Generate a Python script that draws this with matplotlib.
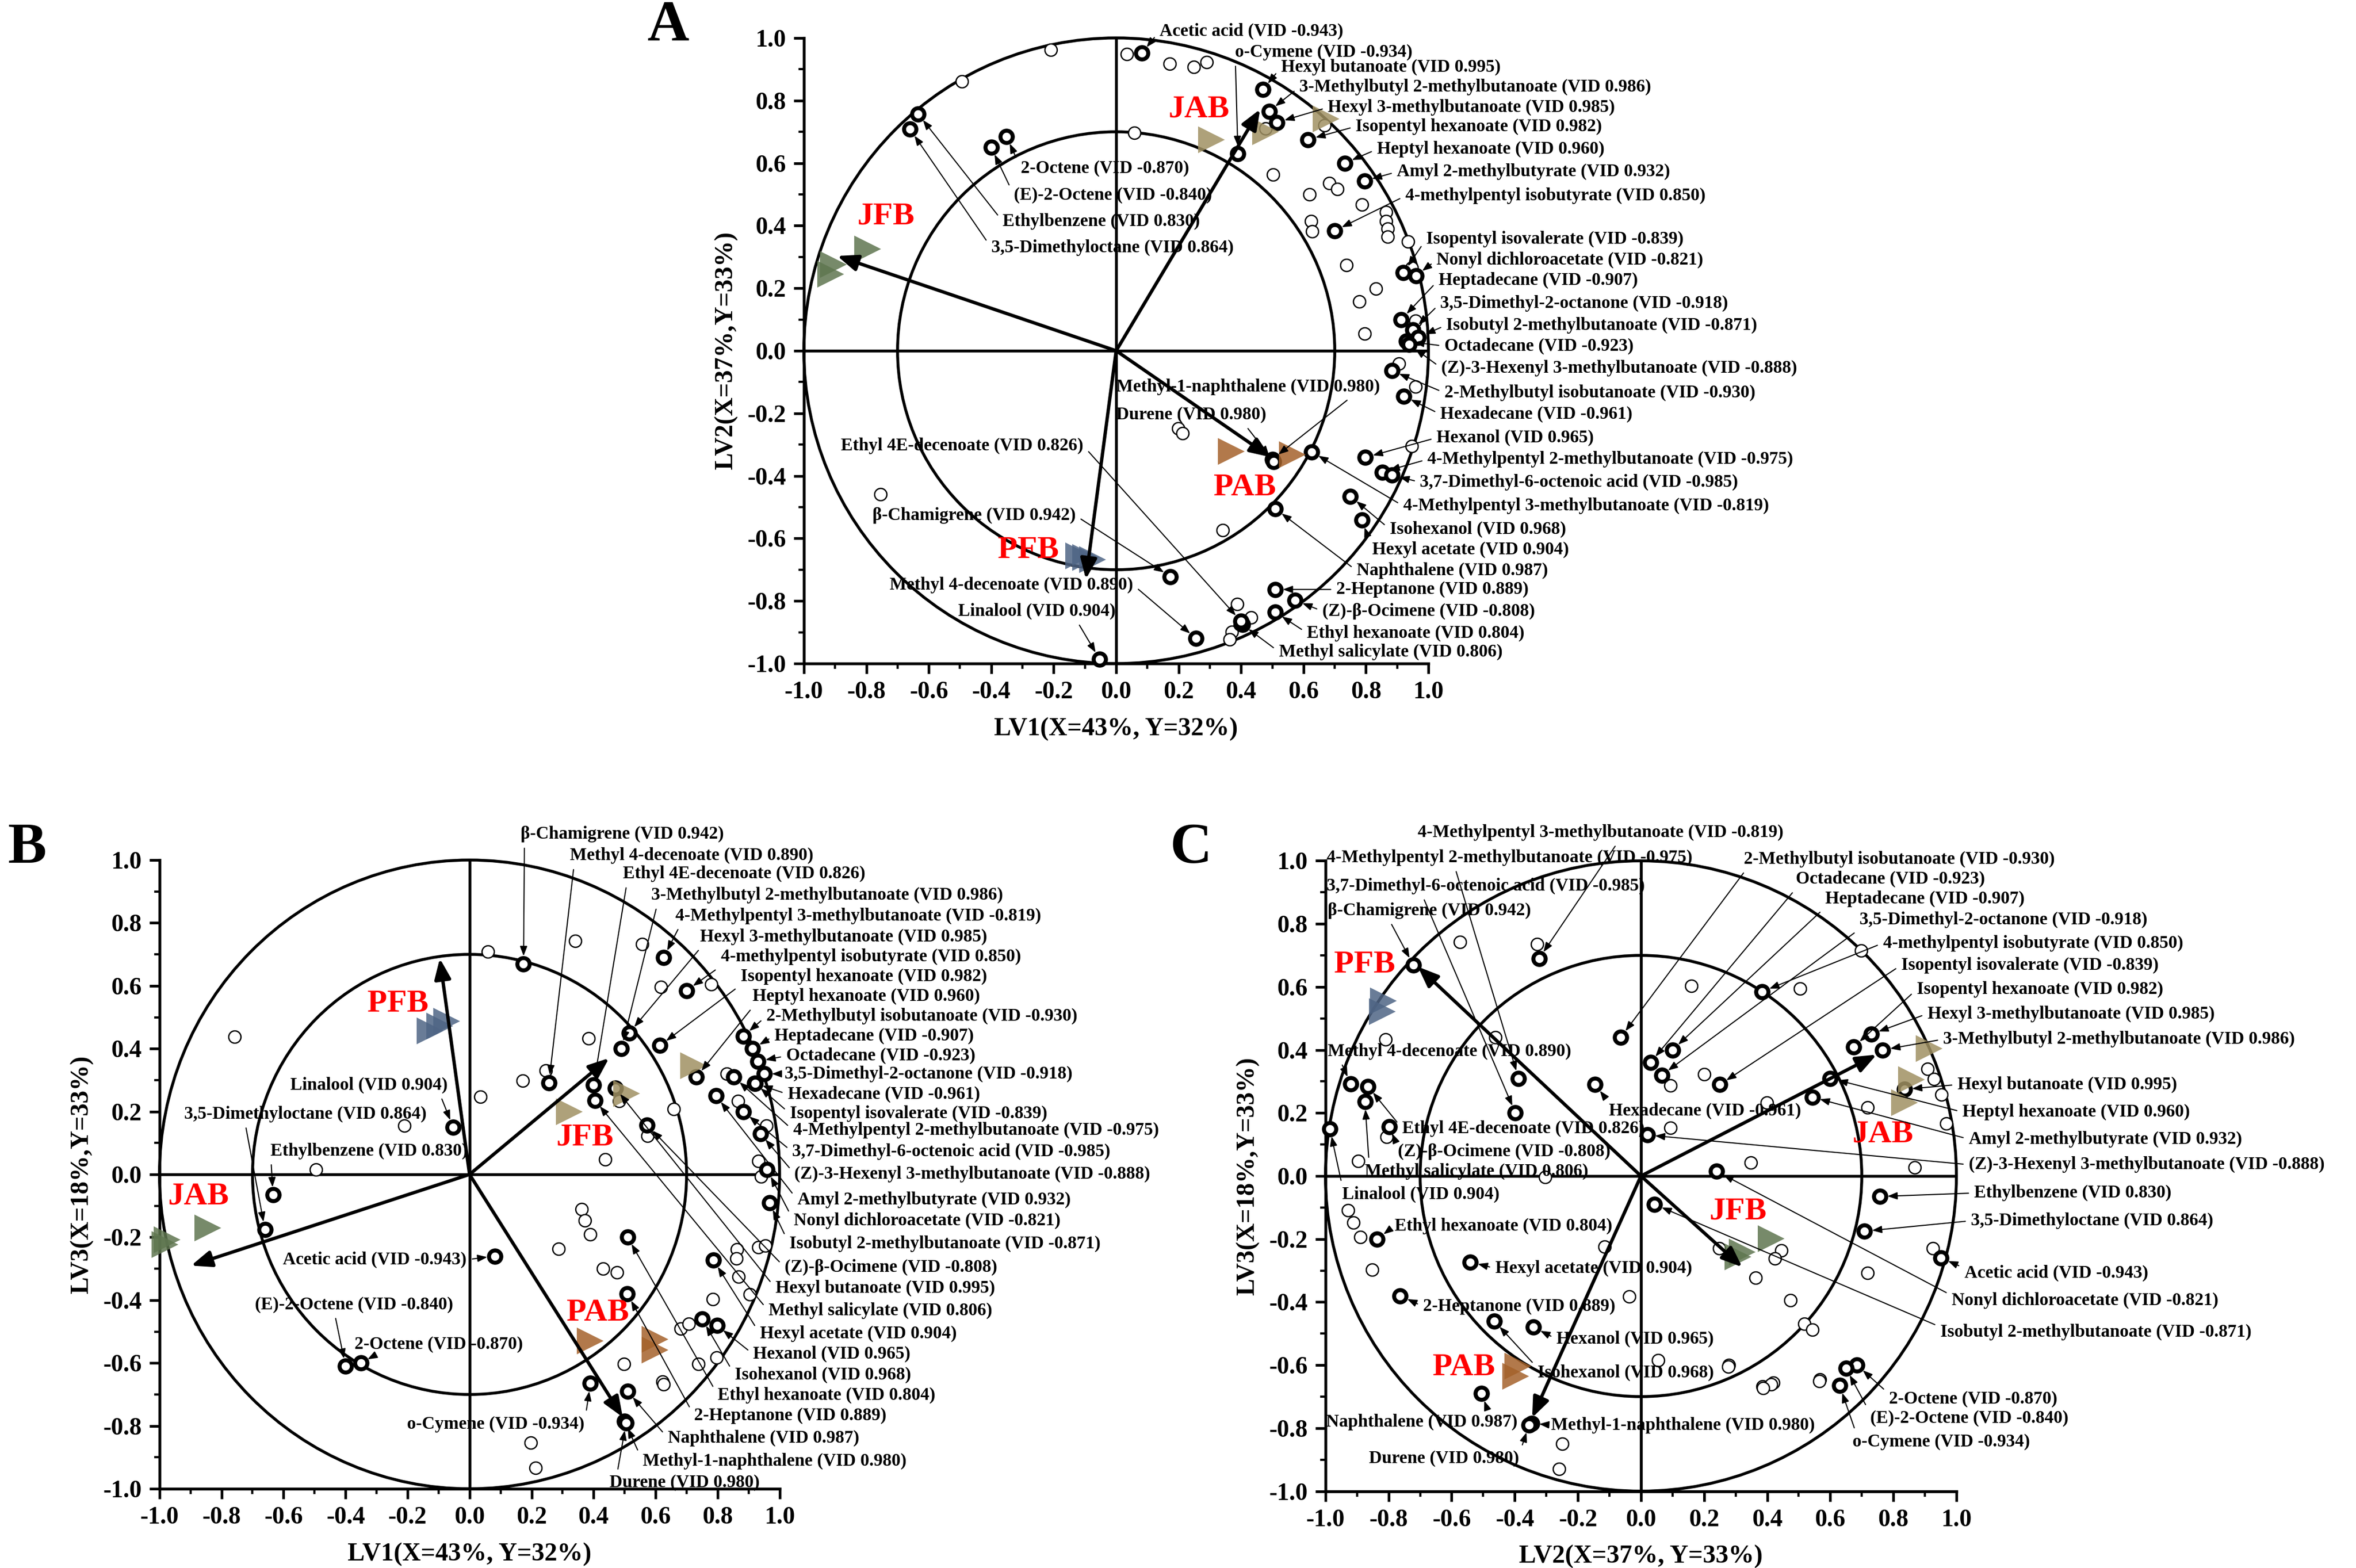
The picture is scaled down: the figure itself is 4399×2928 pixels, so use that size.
import numpy as np
import matplotlib.pyplot as plt
from matplotlib.patches import Circle
from matplotlib.ticker import MultipleLocator, FormatStrFormatter

plt.rcParams['font.family'] = ['Liberation Serif', 'DejaVu Serif']
plt.rcParams['font.weight'] = 'bold'

# compounds with VID values and loadings on LV1, LV2, LV3
names = ["Acetic acid", "o-Cymene", "Hexyl butanoate", "3-Methylbutyl 2-methylbutanoate",
         "Hexyl 3-methylbutanoate", "Isopentyl hexanoate", "Heptyl hexanoate",
         "Amyl 2-methylbutyrate", "4-methylpentyl isobutyrate", "Isopentyl isovalerate",
         "Nonyl dichloroacetate", "Heptadecane", "3,5-Dimethyl-2-octanone",
         "Isobutyl 2-methylbutanoate", "Octadecane", "(Z)-3-Hexenyl 3-methylbutanoate",
         "2-Methylbutyl isobutanoate", "Hexadecane", "Hexanol",
         "4-Methylpentyl 2-methylbutanoate", "3,7-Dimethyl-6-octenoic acid",
         "4-Methylpentyl 3-methylbutanoate", "Isohexanol", "Hexyl acetate", "Naphthalene",
         "2-Heptanone", "(Z)-β-Ocimene", "Ethyl hexanoate", "Methyl salicylate",
         "Methyl-1-naphthalene", "Durene", "Ethyl 4E-decenoate", "β-Chamigrene",
         "Methyl 4-decenoate", "Linalool", "2-Octene", "(E)-2-Octene", "Ethylbenzene",
         "3,5-Dimethyloctane"]
vid = [-0.943, -0.934, 0.995, 0.986, 0.985, 0.982, 0.960, 0.932, 0.850, -0.839, -0.821,
       -0.907, -0.918, -0.871, -0.923, -0.888, -0.930, -0.961, 0.965, -0.975, -0.985,
       -0.819, 0.968, 0.904, 0.987, 0.889, -0.808, 0.804, 0.806, 0.980, 0.980, 0.826,
       0.942, 0.890, 0.904, -0.870, -0.840, 0.830, 0.864]
lv1 = [0.082, 0.39, 0.47, 0.49, 0.515, 0.614, 0.732, 0.795, 0.70, 0.92, 0.96, 0.913, 0.95,
       0.967, 0.93, 0.938, 0.883, 0.921, 0.798, 0.852, 0.883, 0.626, 0.75, 0.787, 0.51,
       0.509, 0.573, 0.51, 0.404, 0.50, 0.505, 0.40, 0.174, 0.256, -0.053, -0.351, -0.40,
       -0.634, -0.66]
lv2 = [0.951, 0.63, 0.835, 0.766, 0.73, 0.675, 0.60, 0.543, 0.384, 0.25, 0.24, 0.10, 0.066,
       0.043, 0.03, 0.02, -0.064, -0.145, -0.341, -0.388, -0.398, -0.323, -0.465, -0.541,
       -0.505, -0.763, -0.798, -0.836, -0.875, -0.347, -0.355, -0.865, -0.722, -0.92,
       -0.986, 0.685, 0.65, 0.757, 0.708]
lv3 = [-0.26, -0.665, 0.275, 0.40, 0.45, 0.41, 0.31, 0.25, 0.585, 0.29, 0.015, 0.40, 0.32,
       -0.09, 0.36, 0.13, 0.44, 0.29, -0.48, 0.31, 0.20, 0.69, -0.46, -0.273, -0.69, -0.38,
       0.157, -0.20, 0.236, -0.785, -0.79, 0.284, 0.67, 0.292, 0.15, -0.60, -0.61, -0.065,
       -0.175]

# other (unlabelled) variables, read per panel
openA_x = [-0.209, -0.494, 0.034, 0.172, 0.248, 0.289, 0.059, 0.478, 0.667, 0.502, 0.683,
           0.708, 0.619, 0.787, 0.864, 0.864, 0.869, 0.869, 0.624, 0.627, 0.934, 0.737,
           0.832, 0.778, 0.796, 0.946, 0.959, 0.905, 0.959, 0.946, 0.199, 0.212, -0.754,
           0.342, 0.388, 0.432, 0.371, 0.363, 0.396]
openA_y = [0.962, 0.861, 0.948, 0.917, 0.907, 0.922, 0.696, 0.711, 0.72, 0.563, 0.535,
           0.517, 0.50, 0.468, 0.443, 0.414, 0.39, 0.364, 0.414, 0.382, 0.349, 0.274, 0.199,
           0.157, 0.054, 0.265, 0.096, -0.041, -0.115, -0.304, -0.248, -0.263, -0.459,
           -0.573, -0.809, -0.852, -0.898, -0.923, -0.875]
openB_x = [0.059, 0.34, 0.556, 0.617, 0.779, 0.384, 0.245, 0.171, 0.035, -0.758, -0.21,
           -0.495, 0.483, 0.574, 0.659, 0.437, 0.83, 0.866, 0.958, 0.931, 0.941, 0.361,
           0.372, 0.389, 0.287, 0.431, 0.475, 0.863, 0.861, 0.867, 0.904, 0.931, 0.954,
           0.784, 0.681, 0.707, 0.738, 0.796, 0.498, 0.622, 0.625, 0.198, 0.213]
openB_y = [0.709, 0.742, 0.733, 0.596, 0.604, 0.433, 0.33, 0.299, 0.247, 0.438, 0.155,
           0.015, 0.234, 0.123, 0.208, 0.047, 0.321, 0.234, 0.155, 0.042, -0.006, -0.111,
           -0.147, -0.191, -0.236, -0.30, -0.312, -0.239, -0.268, -0.325, -0.381, -0.231,
           -0.226, -0.396, -0.49, -0.475, -0.603, -0.583, -0.603, -0.659, -0.667, -0.853,
           -0.934]
openC_x = [-0.573, -0.33, -0.81, -0.461, -0.897, -0.806, -0.303, -0.928, -0.911, -0.89,
           -0.852, -0.115, -0.038, 0.054, 0.279, -0.249, -0.259, 0.093, 0.093, 0.159, 0.201,
           0.399, 0.504, 0.349, 0.248, 0.445, 0.424, 0.363, 0.473, 0.518, 0.544, 0.385,
           0.42, 0.568, 0.698, 0.908, 0.929, 0.952, 0.968, 0.718, 0.868, 0.925, 0.718,
           0.413, 0.387, 0.565, 0.277]
openC_y = [0.743, 0.735, 0.434, 0.44, 0.048, 0.124, -0.003, -0.109, -0.148, -0.193, -0.297,
           -0.225, -0.383, -0.584, -0.60, -0.849, -0.929, 0.288, 0.153, 0.603, 0.322, 0.233,
           0.595, 0.043, -0.23, -0.236, -0.262, -0.322, -0.394, -0.469, -0.487, -0.667,
           -0.656, -0.646, 0.715, 0.339, 0.307, 0.259, 0.166, 0.217, 0.027, -0.229, -0.308,
           -0.661, -0.673, -0.651, -0.605]

# sample groups: score triangles, group vectors
groups = ["JAB", "JFB", "PAB", "PFB"]
tan, green, brown, slate = "#A09163", "#5F7650", "#A5622B", "#4F6585"
colA = {"JAB": tan, "JFB": green, "PAB": brown, "PFB": slate}
colB = {"JAB": green, "JFB": tan, "PAB": brown, "PFB": slate}
colC = {"JAB": tan, "JFB": green, "PAB": brown, "PFB": slate}

triA = {"JAB": ([0.305, 0.478, 0.672], [0.674, 0.70, 0.742]),
        "JFB": ([-0.795, -0.905, -0.915], [0.326, 0.275, 0.245]),
        "PAB": ([0.368, 0.565], [-0.321, -0.332]),
        "PFB": ([-0.12, -0.097, -0.075], [-0.655, -0.66, -0.668])}
vecA = {"JAB": (0.461, 0.772), "JFB": (-0.893, 0.303), "PAB": (0.494, -0.34), "PFB": (-0.097, -0.73)}
triB = {"JAB": ([-0.844, -0.975, -0.983], [-0.171, -0.207, -0.223]),
        "JFB": ([0.321, 0.506, 0.722], [0.20, 0.258, 0.346]),
        "PAB": ([0.39, 0.599, 0.599], [-0.53, -0.525, -0.559]),
        "PFB": ([-0.127, -0.096, -0.073], [0.456, 0.472, 0.488])}
vecB = {"JAB": (-0.898, -0.29), "JFB": (0.45, 0.37), "PAB": (0.494, -0.772), "PFB": (-0.096, 0.687)}
triC = {"JAB": ([0.913, 0.857, 0.835], [0.405, 0.305, 0.232]),
        "JFB": ([0.413, 0.321, 0.307], [-0.198, -0.241, -0.257]),
        "PAB": ([-0.39, -0.397], [-0.603, -0.635]),
        "PFB": ([-0.817, -0.82], [0.555, 0.522])}
vecC = {"JAB": (0.747, 0.385), "JFB": (0.321, -0.289), "PAB": (-0.345, -0.767), "PFB": (-0.707, 0.664)}

# layout: where the group names and compound labels sit (x, y, ha, relpos)
gposA = {"JAB": (0.265, 0.772), "JFB": (-0.737, 0.428), "PAB": (0.412, -0.439), "PFB": (-0.281, -0.638)}
gposB = {"JAB": (-0.875, -0.071), "JFB": (0.372, 0.116), "PAB": (0.414, -0.441), "PFB": (-0.231, 0.541)}
gposC = {"JAB": (0.767, 0.132), "JFB": (0.307, -0.113), "PAB": (-0.562, -0.608), "PFB": (-0.876, 0.67)}

L = "left"
R = "right"
labA = {
    "Acetic acid": (0.139, 1.022, L), "o-Cymene": (0.381, 0.954, L),
    "Hexyl butanoate": (0.528, 0.906, L), "3-Methylbutyl 2-methylbutanoate": (0.587, 0.843, L),
    "Hexyl 3-methylbutanoate": (0.678, 0.778, L), "Isopentyl hexanoate": (0.767, 0.717, L),
    "Heptyl hexanoate": (0.835, 0.644, L), "Amyl 2-methylbutyrate": (0.899, 0.572, L),
    "4-methylpentyl isobutyrate": (0.926, 0.495, L), "Isopentyl isovalerate": (0.993, 0.357, L),
    "Nonyl dichloroacetate": (1.026, 0.29, L), "Heptadecane": (1.032, 0.226, L),
    "3,5-Dimethyl-2-octanone": (1.038, 0.152, L), "Isobutyl 2-methylbutanoate": (1.057, 0.082, L),
    "Octadecane": (1.051, 0.015, L), "(Z)-3-Hexenyl 3-methylbutanoate": (1.041, -0.055, L),
    "2-Methylbutyl isobutanoate": (1.051, -0.134, L), "Hexadecane": (1.038, -0.203, L),
    "Hexanol": (1.026, -0.278, L), "4-Methylpentyl 2-methylbutanoate": (0.997, -0.347, L),
    "3,7-Dimethyl-6-octenoic acid": (0.973, -0.42, L),
    "4-Methylpentyl 3-methylbutanoate": (0.919, -0.496, L), "Isohexanol": (0.876, -0.57, L),
    "Hexyl acetate": (0.82, -0.635, L), "Naphthalene": (0.77, -0.703, L),
    "2-Heptanone": (0.705, -0.763, L), "(Z)-β-Ocimene": (0.66, -0.832, L),
    "Ethyl hexanoate": (0.611, -0.902, L), "Methyl salicylate": (0.521, -0.962, L),
    "Methyl-1-naphthalene": (0.0, -0.115, L, (0.9, 0)), "Durene": (0.0, -0.205, L, (0.85, 0)),
    "Ethyl 4E-decenoate": (-0.105, -0.304, R), "β-Chamigrene": (-0.13, -0.527, R),
    "Methyl 4-decenoate": (0.054, -0.748, R), "Linalool": (-0.002, -0.833, R, (0.75, 0)),
    "2-Octene": (-0.305, 0.583, L), "(E)-2-Octene": (-0.327, 0.497, L),
    "Ethylbenzene": (-0.363, 0.413, L), "3,5-Dimethyloctane": (-0.40, 0.33, L),
}
top = (0.02, 0.2)
labB = {
    "β-Chamigrene": (0.164, 1.082, L, top), "Methyl 4-decenoate": (0.323, 1.014, L, top),
    "Ethyl 4E-decenoate": (0.494, 0.956, L, top),
    "3-Methylbutyl 2-methylbutanoate": (0.586, 0.888, L, top),
    "4-Methylpentyl 3-methylbutanoate": (0.663, 0.823, L, top),
    "Hexyl 3-methylbutanoate": (0.743, 0.756, L, top),
    "4-methylpentyl isobutyrate": (0.81, 0.692, L, top), "Isopentyl hexanoate": (0.874, 0.63, L, top),
    "Heptyl hexanoate": (0.913, 0.566, L, top), "2-Methylbutyl isobutanoate": (0.957, 0.503, L),
    "Heptadecane": (0.983, 0.441, L), "Octadecane": (1.021, 0.377, L),
    "3,5-Dimethyl-2-octanone": (1.017, 0.32, L), "Hexadecane": (1.026, 0.255, L),
    "Isopentyl isovalerate": (1.033, 0.194, L), "4-Methylpentyl 2-methylbutanoate": (1.043, 0.141, L),
    "3,7-Dimethyl-6-octenoic acid": (1.041, 0.072, L),
    "(Z)-3-Hexenyl 3-methylbutanoate": (1.048, 0.002, L), "Amyl 2-methylbutyrate": (1.057, -0.08, L),
    "Nonyl dichloroacetate": (1.045, -0.147, L), "Isobutyl 2-methylbutanoate": (1.031, -0.221, L),
    "(Z)-β-Ocimene": (1.016, -0.295, L), "Hexyl butanoate": (0.986, -0.361, L),
    "Methyl salicylate": (0.964, -0.434, L), "Hexyl acetate": (0.936, -0.506, L),
    "Hexanol": (0.915, -0.572, L), "Isohexanol": (0.855, -0.637, L),
    "Ethyl hexanoate": (0.801, -0.702, L), "2-Heptanone": (0.725, -0.768, L),
    "Naphthalene": (0.639, -0.838, L), "Methyl-1-naphthalene": (0.558, -0.911, L),
    "Durene": (0.451, -0.981, L, (0.05, 1)),
    "Linalool": (-0.071, 0.284, R, (0.95, 0)), "3,5-Dimethyloctane": (-0.138, 0.192, R, (0.25, 0)),
    "Ethylbenzene": (-0.005, 0.075, R, (0.0, 0.3)), "Acetic acid": (-0.009, -0.271, R),
    "(E)-2-Octene": (-0.052, -0.414, R, (0.4, 0)), "2-Octene": (0.173, -0.54, R, (0.15, 0)),
    "o-Cymene": (0.37, -0.794, R),
}
labC = {
    "4-Methylpentyl 3-methylbutanoate": (-0.708, 1.09, L, (0.55, 0)),
    "4-Methylpentyl 2-methylbutanoate": (-0.997, 1.01, L, (0.35, 0)),
    "3,7-Dimethyl-6-octenoic acid": (-0.997, 0.92, L, (0.3, 0)),
    "β-Chamigrene": (-0.993, 0.842, L, (0.3, 0)), "Methyl 4-decenoate": (-0.993, 0.396, L, (0.05, 0)),
    "Ethyl 4E-decenoate": (-0.757, 0.151, L), "(Z)-β-Ocimene": (-0.771, 0.078, L, (0, 0.8)),
    "Methyl salicylate": (-0.876, 0.015, L, (0.02, 1)), "Linalool": (-0.947, -0.058, L, (0, 1)),
    "Ethyl hexanoate": (-0.781, -0.158, L), "Hexyl acetate": (-0.462, -0.293, L),
    "2-Heptanone": (-0.691, -0.414, L), "Hexanol": (-0.268, -0.517, L),
    "Isohexanol": (-0.328, -0.625, L, (0, 0.8)), "Naphthalene": (-0.998, -0.78, L, (0.85, 1)),
    "Methyl-1-naphthalene": (-0.285, -0.79, L), "Durene": (-0.863, -0.897, L, (1, 0.7)),
    "Hexadecane": (-0.102, 0.207, L, (0, 1)),
    "2-Methylbutyl isobutanoate": (0.326, 1.005, L, top), "Octadecane": (0.491, 0.942, L, top),
    "Heptadecane": (0.584, 0.88, L, top), "3,5-Dimethyl-2-octanone": (0.693, 0.813, L, top),
    "4-methylpentyl isobutyrate": (0.767, 0.739, L), "Isopentyl isovalerate": (0.825, 0.669, L),
    "Isopentyl hexanoate": (0.874, 0.592, L), "Hexyl 3-methylbutanoate": (0.908, 0.515, L),
    "3-Methylbutyl 2-methylbutanoate": (0.958, 0.434, L), "Hexyl butanoate": (1.003, 0.29, L),
    "Heptyl hexanoate": (1.019, 0.203, L), "Amyl 2-methylbutyrate": (1.039, 0.117, L),
    "(Z)-3-Hexenyl 3-methylbutanoate": (1.039, 0.036, L), "Ethylbenzene": (1.056, -0.054, L),
    "3,5-Dimethyloctane": (1.046, -0.142, L), "Acetic acid": (1.025, -0.308, L, (0, 0.8)),
    "Nonyl dichloroacetate": (0.985, -0.395, L, (0, 0.8)),
    "Isobutyl 2-methylbutanoate": (0.949, -0.495, L, (0, 0.8)),
    "2-Octene": (0.786, -0.707, L, (0, 0.8)), "(E)-2-Octene": (0.727, -0.769, L, (0, 0.8)),
    "o-Cymene": (0.671, -0.843, L, (0.02, 1)),
}


def draw_panel(ax, xs, ys, ox, oy, tri, vec, cols, gpos, labs, xlabel, ylabel):
    ax.set_xlim(-1, 1)
    ax.set_ylim(-1, 1)
    for s in ["top", "right"]:
        ax.spines[s].set_visible(False)
    for s in ["left", "bottom"]:
        ax.spines[s].set_linewidth(1.3)
    ax.xaxis.set_major_locator(MultipleLocator(0.2))
    ax.yaxis.set_major_locator(MultipleLocator(0.2))
    ax.xaxis.set_minor_locator(MultipleLocator(0.1))
    ax.yaxis.set_minor_locator(MultipleLocator(0.1))
    ax.xaxis.set_major_formatter(FormatStrFormatter("%.1f"))
    ax.yaxis.set_major_formatter(FormatStrFormatter("%.1f"))
    ax.tick_params(which="major", direction="out", length=4.5, width=1.2, labelsize=11)
    ax.tick_params(which="minor", direction="out", length=2.5, width=1.0)
    ax.set_xlabel(xlabel, fontsize=11.5, fontweight="bold", labelpad=6)
    ax.set_ylabel(ylabel, fontsize=11.5, fontweight="bold", labelpad=4)

    ax.axhline(0, color="k", lw=1.3, zorder=1)
    ax.axvline(0, color="k", lw=1.3, zorder=1)
    for r in [1.0, 0.7]:
        ax.add_patch(Circle((0, 0), r, fill=False, lw=1.3, color="k", clip_on=False, zorder=1))

    ax.plot(ox, oy, "o", ms=5.5, mfc="white", mec="k", mew=0.6, ls="none", clip_on=False, zorder=3)
    ax.plot(xs, ys, "o", ms=5.5, mfc="white", mec="k", mew=1.8, ls="none", clip_on=False, zorder=4)

    for g in groups:
        tx, ty = tri[g]
        ax.plot(tx, ty, ">", ms=12, color=cols[g], mec="none", alpha=0.85, ls="none",
                clip_on=False, zorder=5)
        ax.annotate("", xy=vec[g], xytext=(0, 0),
                    arrowprops=dict(arrowstyle="-|>,head_length=0.7,head_width=0.28",
                                    lw=1.5, color="k", shrinkA=0, shrinkB=0,
                                    mutation_scale=11), zorder=6)
        gx, gy = gpos[g]
        ax.text(gx, gy, g, color="red", fontsize=14.5, fontweight="bold",
                ha="center", va="center", zorder=7)

    for i, nm in enumerate(names):
        spec = labs[nm]
        tx, ty, ha = spec[0], spec[1], spec[2]
        rp = spec[3] if len(spec) > 3 else ((0, 0.5) if ha == "left" else (1, 0.5))
        ax.annotate("%s (VID %.3f)" % (nm, vid[i]), xy=(xs[i], ys[i]), xytext=(tx, ty),
                    ha=ha, va="center", fontsize=8, fontweight="bold",
                    annotation_clip=False,
                    arrowprops=dict(arrowstyle="-|>,head_length=0.45,head_width=0.17",
                                    lw=0.5, color="k", shrinkA=0.5, shrinkB=3.5,
                                    relpos=rp), zorder=8)


fig = plt.figure(figsize=(4399 / 300, 2928 / 300), dpi=300)
axA = fig.add_axes([0.3412, 0.5768, 0.2651, 0.3990])
axB = fig.add_axes([0.0677, 0.0505, 0.2632, 0.4010])
axC = fig.add_axes([0.5626, 0.0490, 0.2678, 0.4020])

draw_panel(axA, lv1, lv2, openA_x, openA_y, triA, vecA, colA, gposA, labA,
           "LV1(X=43%, Y=32%)", "LV2(X=37%,Y=33%)")
draw_panel(axB, lv1, lv3, openB_x, openB_y, triB, vecB, colB, gposB, labB,
           "LV1(X=43%, Y=32%)", "LV3(X=18%,Y=33%)")
draw_panel(axC, lv2, lv3, openC_x, openC_y, triC, vecC, colC, gposC, labC,
           "LV2(X=37%, Y=33%)", "LV3(X=18%,Y=33%)")

fig.text(0.2837, 0.983, "A", fontsize=26, fontweight="bold", ha="center", va="center")
fig.text(0.0115, 0.4587, "B", fontsize=26, fontweight="bold", ha="center", va="center")
fig.text(0.5056, 0.4587, "C", fontsize=26, fontweight="bold", ha="center", va="center")

fig.savefig("out.png", dpi=300)
